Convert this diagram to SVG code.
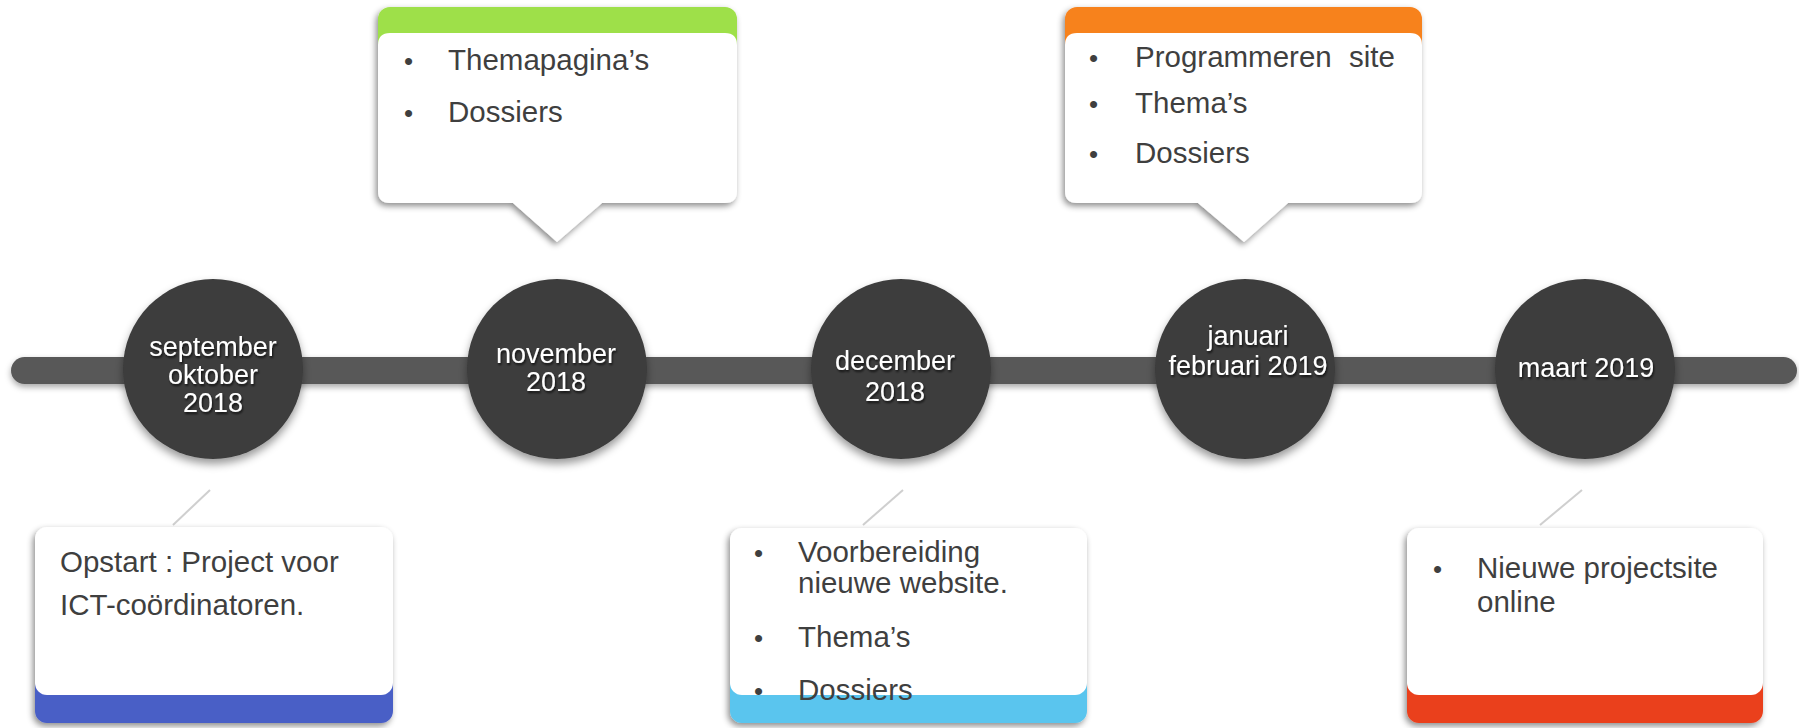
<svg xmlns="http://www.w3.org/2000/svg" width="1799" height="728" viewBox="0 0 1799 728">
<defs>
<filter id="boxShadow" x="-10%" y="-10%" width="120%" height="130%">
<feDropShadow dx="-2" dy="3" stdDeviation="3" flood-color="#000" flood-opacity="0.45"/>
</filter>
<filter id="circShadow" x="-20%" y="-20%" width="140%" height="150%">
<feDropShadow dx="0" dy="5" stdDeviation="4" flood-color="#000" flood-opacity="0.4"/>
</filter>
<filter id="barShadow" x="-2%" y="-30%" width="104%" height="180%">
<feDropShadow dx="0" dy="3" stdDeviation="3" flood-color="#000" flood-opacity="0.35"/>
</filter>
<filter id="txtShadow" x="-10%" y="-20%" width="120%" height="150%">
<feDropShadow dx="1" dy="2" stdDeviation="1.2" flood-color="#000" flood-opacity="0.7"/>
</filter>
</defs>
<style>
.circle{fill:#3c3c3c;filter:url(#circShadow);}
.ctext{font-family:"Liberation Sans",Arial,sans-serif;font-size:27px;fill:#ffffff;text-anchor:middle;filter:url(#txtShadow);}
.btext{font-family:"Liberation Sans",Arial,sans-serif;font-size:29.5px;fill:#3f3f3f;}
.bullet{font-family:"Liberation Sans",Arial,sans-serif;font-size:26px;fill:#3f3f3f;}
.body{fill:#ffffff;}
.box{filter:url(#boxShadow);}
.conn{stroke:#cfcfcf;stroke-width:2;fill:none;}
</style>
<rect width="1799" height="728" fill="#ffffff"/>

<g id="timeline">
<rect x="11" y="357" width="1786" height="27" rx="13.5" fill="#595959" filter="url(#barShadow)"/>
</g>

<g id="connectors">
<line class="conn" x1="173" y1="525" x2="210" y2="490"/>
<line class="conn" x1="863" y1="525" x2="903" y2="490"/>
<line class="conn" x1="1540" y1="525" x2="1582" y2="490"/>
</g>

<g id="node-sep-okt-2018">
<circle class="circle" cx="213" cy="369" r="90"/>
<text class="ctext" x="213" y="356">september</text>
<text class="ctext" x="213" y="384">oktober</text>
<text class="ctext" x="213" y="412">2018</text>
</g>

<g id="node-nov-2018">
<circle class="circle" cx="557" cy="369" r="90"/>
<text class="ctext" x="556" y="363">november</text>
<text class="ctext" x="556" y="391">2018</text>
</g>

<g id="node-dec-2018">
<circle class="circle" cx="901" cy="369" r="90"/>
<text class="ctext" x="895" y="370">december</text>
<text class="ctext" x="895" y="401">2018</text>
</g>

<g id="node-jan-feb-2019">
<circle class="circle" cx="1245" cy="369" r="90"/>
<text class="ctext" x="1248" y="345">januari</text>
<text class="ctext" x="1248" y="375">februari 2019</text>
</g>

<g id="node-mrt-2019">
<circle class="circle" cx="1585" cy="369" r="90"/>
<text class="ctext" x="1586" y="377">maart 2019</text>
</g>

<g id="box-nov">
<g class="box">
<rect x="378" y="7" width="359" height="60" rx="12" fill="#9ee048"/>
<path class="body" d="M378,45 Q378,33 390,33 H725 Q737,33 737,45 V191 Q737,203 725,203 H602 L557,242 L513,203 H390 Q378,203 378,191 Z"/>
</g>
<text class="bullet" x="404" y="70">•</text>
<text class="btext" x="448" y="70">Themapagina’s</text>
<text class="bullet" x="404" y="122">•</text>
<text class="btext" x="448" y="122">Dossiers</text>
</g>

<g id="box-jan-feb">
<g class="box">
<rect x="1065" y="7" width="357" height="60" rx="12" fill="#f7821e"/>
<path class="body" d="M1065,45 Q1065,33 1077,33 H1410 Q1422,33 1422,45 V191 Q1422,203 1410,203 H1288 L1244,242 L1198,203 H1077 Q1065,203 1065,191 Z"/>
</g>
<text class="bullet" x="1089" y="67">•</text>
<text class="btext" x="1135" y="67" word-spacing="9">Programmeren site</text>
<text class="bullet" x="1089" y="113">•</text>
<text class="btext" x="1135" y="113">Thema’s</text>
<text class="bullet" x="1089" y="163">•</text>
<text class="btext" x="1135" y="163">Dossiers</text>
</g>

<g id="box-sep-okt">
<g class="box">
<rect x="35" y="668" width="358" height="55" rx="12" fill="#4a5fc6"/>
<rect class="body" x="35" y="527" width="358" height="168" rx="12"/>
</g>
<text class="btext" x="60" y="572">Opstart : Project voor</text>
<text class="btext" x="60" y="615">ICT-coördinatoren.</text>
</g>

<g id="box-dec">
<g class="box">
<rect x="730" y="668" width="357" height="55" rx="12" fill="#5ac5ee"/>
<rect class="body" x="730" y="528" width="357" height="167" rx="12"/>
</g>
<text class="bullet" x="754" y="562">•</text>
<text class="btext" x="798" y="562">Voorbereiding</text>
<text class="btext" x="798" y="593">nieuwe website.</text>
<text class="bullet" x="754" y="647">•</text>
<text class="btext" x="798" y="647">Thema’s</text>
<text class="bullet" x="754" y="700">•</text>
<text class="btext" x="798" y="700">Dossiers</text>
</g>

<g id="box-mrt">
<g class="box">
<rect x="1407" y="668" width="356" height="55" rx="12" fill="#ea401f"/>
<rect class="body" x="1407" y="528" width="356" height="167" rx="12"/>
</g>
<text class="bullet" x="1433" y="578">•</text>
<text class="btext" x="1477" y="578">Nieuwe projectsite</text>
<text class="btext" x="1477" y="612">online</text>
</g>
</svg>
